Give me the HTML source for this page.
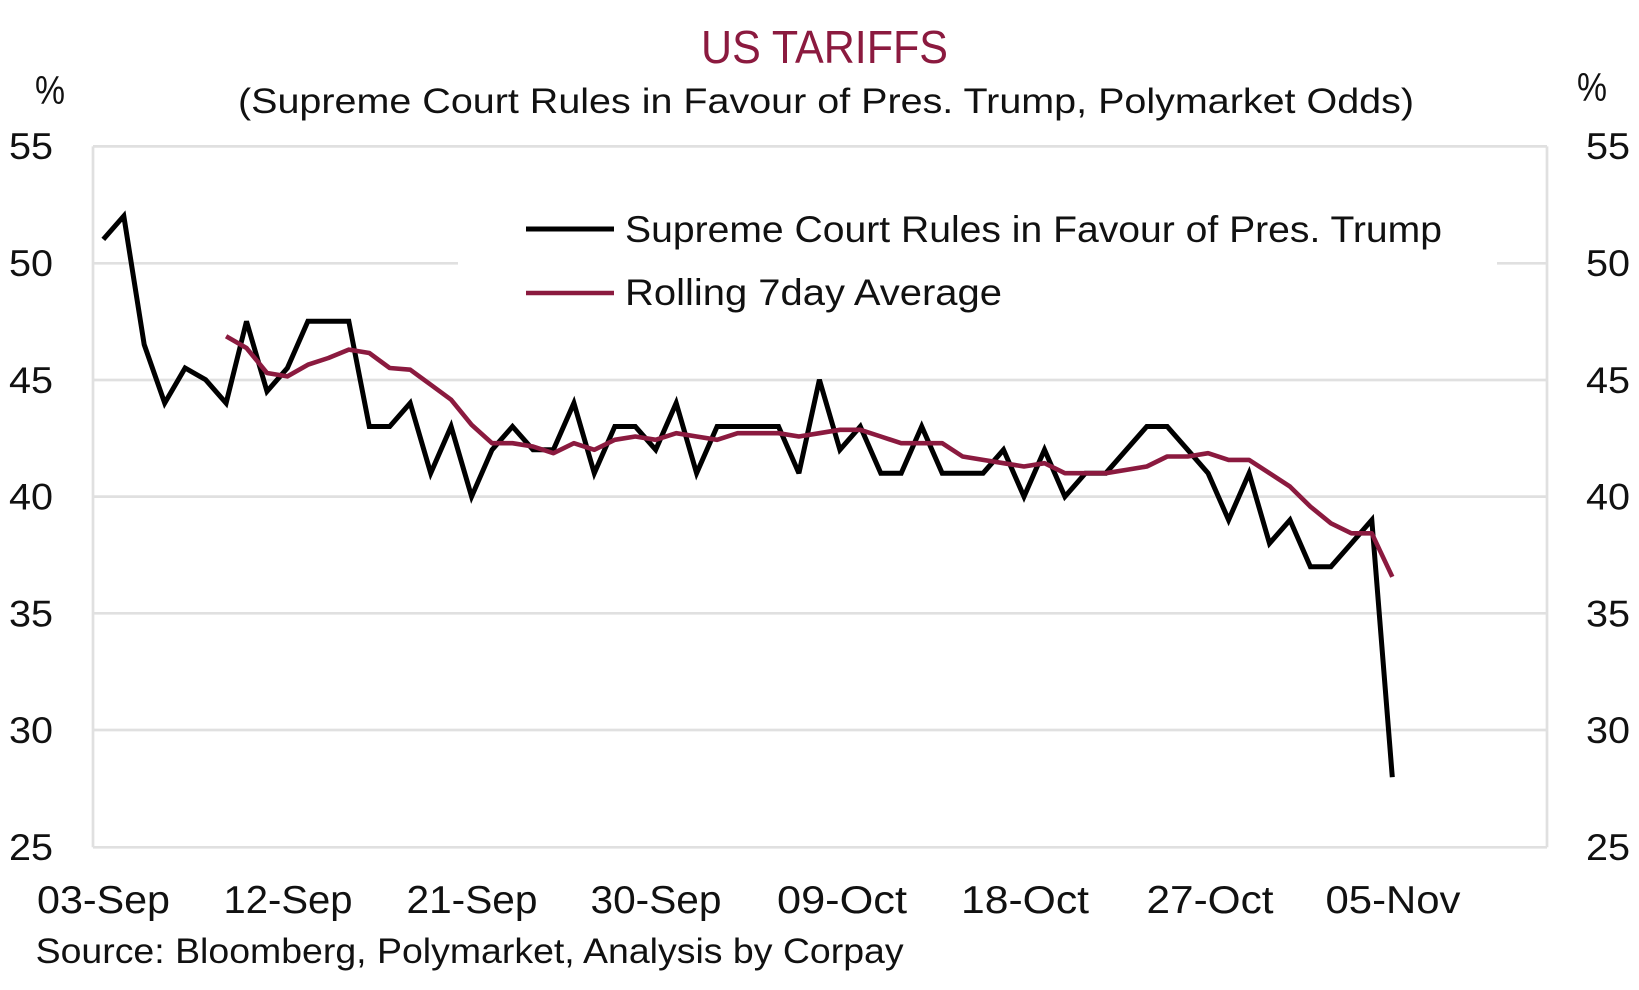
<!DOCTYPE html>
<html>
<head>
<meta charset="utf-8">
<style>
  html, body { margin: 0; padding: 0; background: #ffffff; }
  svg { display: block; }
  text { font-family: "Liberation Sans", sans-serif; fill: #111111; }
</style>
</head>
<body>
<svg width="1639" height="990" viewBox="0 0 1639 990" xmlns="http://www.w3.org/2000/svg">
  <rect x="0" y="0" width="1639" height="990" fill="#ffffff"/>

  <!-- Title -->
  <text x="824.5" y="63" font-size="46" text-anchor="middle" textLength="247" lengthAdjust="spacingAndGlyphs" style="fill:#8B1A3F">US TARIFFS</text>
  <text x="826" y="113" font-size="35" text-anchor="middle" textLength="1176" lengthAdjust="spacingAndGlyphs">(Supreme Court Rules in Favour of Pres. Trump, Polymarket Odds)</text>

  <!-- % labels -->
  <text x="50" y="104" font-size="40" text-anchor="middle" textLength="30" lengthAdjust="spacingAndGlyphs">%</text>
  <text x="1592" y="101" font-size="40" text-anchor="middle" textLength="30" lengthAdjust="spacingAndGlyphs">%</text>

  <!-- Gridlines -->
  <g stroke="#E0E0E0" stroke-width="2.7" fill="none">
    <line x1="93" y1="146.4" x2="1547" y2="146.4"/>
    <line x1="93" y1="263.3" x2="458" y2="263.3"/>
    <line x1="1497" y1="263.3" x2="1547" y2="263.3"/>
    <line x1="93" y1="380" x2="1547" y2="380"/>
    <line x1="93" y1="496.6" x2="1547" y2="496.6"/>
    <line x1="93" y1="613.3" x2="1547" y2="613.3"/>
    <line x1="93" y1="730" x2="1547" y2="730"/>
    <line x1="93" y1="847.3" x2="1547" y2="847.3"/>
    <line x1="93" y1="146.4" x2="93" y2="847.3"/>
    <line x1="1547" y1="146.4" x2="1547" y2="847.3"/>
  </g>

  <!-- Left axis labels -->
  <g font-size="37" text-anchor="end">
    <text x="53" y="159" textLength="44" lengthAdjust="spacingAndGlyphs">55</text>
    <text x="53" y="276" textLength="44" lengthAdjust="spacingAndGlyphs">50</text>
    <text x="53" y="393" textLength="44" lengthAdjust="spacingAndGlyphs">45</text>
    <text x="53" y="509.6" textLength="44" lengthAdjust="spacingAndGlyphs">40</text>
    <text x="53" y="626.5" textLength="44" lengthAdjust="spacingAndGlyphs">35</text>
    <text x="53" y="743" textLength="44" lengthAdjust="spacingAndGlyphs">30</text>
    <text x="53" y="860" textLength="44" lengthAdjust="spacingAndGlyphs">25</text>
  </g>
  <!-- Right axis labels -->
  <g font-size="37" text-anchor="start">
    <text x="1586" y="159" textLength="44" lengthAdjust="spacingAndGlyphs">55</text>
    <text x="1586" y="276" textLength="44" lengthAdjust="spacingAndGlyphs">50</text>
    <text x="1586" y="393" textLength="44" lengthAdjust="spacingAndGlyphs">45</text>
    <text x="1586" y="509.6" textLength="44" lengthAdjust="spacingAndGlyphs">40</text>
    <text x="1586" y="626.5" textLength="44" lengthAdjust="spacingAndGlyphs">35</text>
    <text x="1586" y="743" textLength="44" lengthAdjust="spacingAndGlyphs">30</text>
    <text x="1586" y="860" textLength="44" lengthAdjust="spacingAndGlyphs">25</text>
  </g>

  <!-- X axis labels -->
  <g font-size="39" text-anchor="middle">
    <text x="103.5" y="913" textLength="133" lengthAdjust="spacingAndGlyphs">03-Sep</text>
    <text x="288" y="913" textLength="129" lengthAdjust="spacingAndGlyphs">12-Sep</text>
    <text x="472" y="913" textLength="131" lengthAdjust="spacingAndGlyphs">21-Sep</text>
    <text x="656" y="913" textLength="131" lengthAdjust="spacingAndGlyphs">30-Sep</text>
    <text x="842" y="913" textLength="130" lengthAdjust="spacingAndGlyphs">09-Oct</text>
    <text x="1025" y="913" textLength="128" lengthAdjust="spacingAndGlyphs">18-Oct</text>
    <text x="1210" y="913" textLength="127" lengthAdjust="spacingAndGlyphs">27-Oct</text>
    <text x="1393" y="913" textLength="135" lengthAdjust="spacingAndGlyphs">05-Nov</text>
  </g>

  <!-- Source -->
  <text x="35.6" y="963" font-size="35" textLength="868" lengthAdjust="spacingAndGlyphs">Source: Bloomberg, Polymarket, Analysis by Corpay</text>

  <!-- Black series -->
  <polyline fill="none" stroke="#000000" stroke-width="5" stroke-linejoin="miter" stroke-miterlimit="3" points="
    103.3,239.4 123.8,216.0 144.2,344.6 164.7,403.1 185.1,368.0 205.6,379.7 226.1,403.1 246.5,321.3
    267.0,391.4 287.4,368.0 307.9,321.3 328.4,321.3 348.8,321.3 369.3,426.5 389.7,426.5 410.2,403.1
    430.7,473.2 451.1,426.5 471.6,496.6 492.0,449.8 512.5,426.5 533.0,449.8 553.4,449.8 573.9,403.1
    594.3,473.2 614.8,426.5 635.3,426.5 655.7,449.8 676.2,403.1 696.6,473.2 717.1,426.5 737.6,426.5
    758.0,426.5 778.5,426.5 798.9,473.2 819.4,379.7 839.9,449.8 860.3,426.5 880.8,473.2 901.2,473.2
    921.7,426.5 942.2,473.2 962.6,473.2 983.1,473.2 1003.5,449.8 1024.0,496.6 1044.5,449.8 1064.9,496.6
    1085.4,473.2 1105.8,473.2 1126.3,449.8 1146.8,426.5 1167.2,426.5 1187.7,449.8 1208.1,473.2 1228.6,520.0
    1249.1,473.2 1269.5,543.4 1290.0,520.0 1310.4,566.7 1330.9,566.7 1351.4,543.4 1371.8,520.0 1392.3,777.2"/>

  <!-- Rolling average -->
  <polyline fill="none" stroke="#8B1A3F" stroke-width="4.6" stroke-linejoin="round" points="
    226.1,336.3 246.5,348.0 267.0,373.0 287.4,376.4 307.9,364.7 328.4,358.0 348.8,349.6 369.3,353.0
    389.7,368.0 410.2,369.7 430.7,384.7 451.1,399.7 471.6,424.8 492.0,443.2 512.5,443.2 533.0,446.5
    553.4,453.2 573.9,443.2 594.3,449.8 614.8,439.8 635.3,436.5 655.7,439.8 676.2,433.2 696.6,436.5
    717.1,439.8 737.6,433.2 758.0,433.2 778.5,433.2 798.9,436.5 819.4,433.2 839.9,429.8 860.3,429.8
    880.8,436.5 901.2,443.2 921.7,443.2 942.2,443.2 962.6,456.5 983.1,459.9 1003.5,463.2 1024.0,466.5
    1044.5,463.2 1064.9,473.2 1085.4,473.2 1105.8,473.2 1126.3,469.9 1146.8,466.5 1167.2,456.5 1187.7,456.5
    1208.1,453.2 1228.6,459.9 1249.1,459.9 1269.5,473.2 1290.0,486.6 1310.4,506.6 1330.9,523.3 1351.4,533.3
    1371.8,533.3 1392.3,576.8"/>

  <!-- Legend -->
  <line x1="526" y1="229" x2="614" y2="229" stroke="#000000" stroke-width="5"/>
  <text x="625" y="242" font-size="37" textLength="817" lengthAdjust="spacingAndGlyphs">Supreme Court Rules in Favour of Pres. Trump</text>
  <line x1="526" y1="293" x2="614" y2="293" stroke="#8B1A3F" stroke-width="4.6"/>
  <text x="625" y="305" font-size="37" textLength="377" lengthAdjust="spacingAndGlyphs">Rolling 7day Average</text>
</svg>
</body>
</html>
